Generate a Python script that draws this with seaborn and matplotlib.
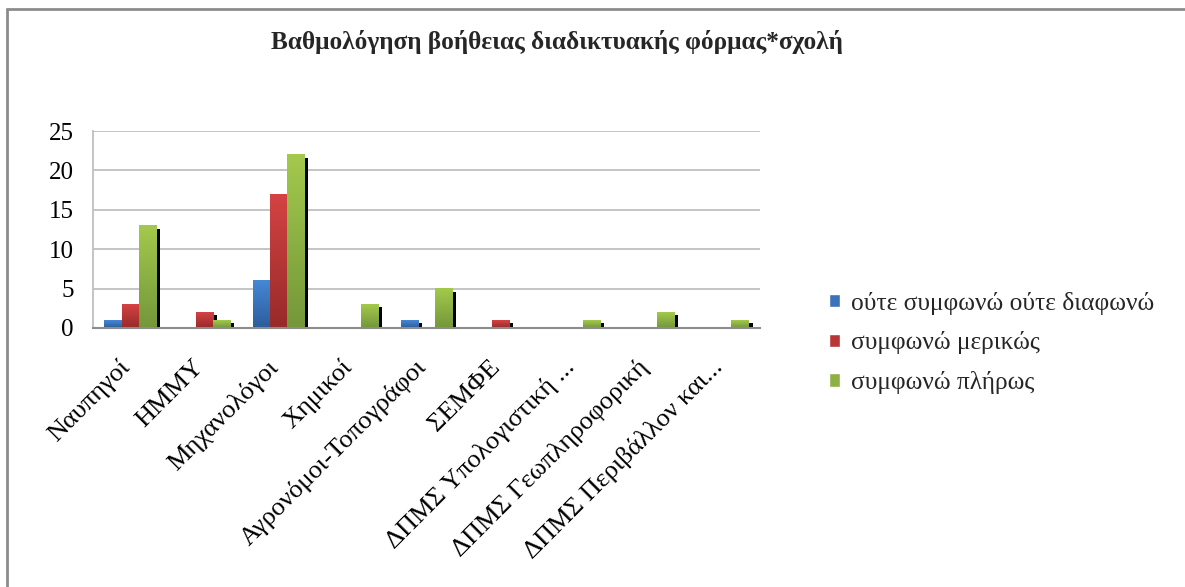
import numpy as np
import pandas as pd
import seaborn as sns
import matplotlib.pyplot as plt
from matplotlib.colors import LinearSegmentedColormap
from matplotlib.patches import Rectangle, Patch
from matplotlib.lines import Line2D
from matplotlib.transforms import ScaledTranslation

# data
schools = ['Ναυπηγοί', 'ΗΜΜΥ', 'Μηχανολόγοι', 'Χημικοί', 'Αγρονόμοι-Τοπογράφοι',
           'ΣΕΜΦΕ', 'ΔΠΜΣ Υπολογιστική ...', 'ΔΠΜΣ Γεωπληροφορική', 'ΔΠΜΣ Περιβάλλον και...']
answers = ['ούτε συμφωνώ ούτε διαφωνώ', 'συμφωνώ μερικώς', 'συμφωνώ πλήρως']
neutral = [1, 0, 6, 0, 1, 0, 0, 0, 0]
partly = [3, 2, 17, 0, 0, 1, 0, 0, 0]
fully = [13, 1, 22, 3, 5, 0, 1, 2, 1]
yticks = [0, 5, 10, 15, 20, 25]

df = pd.DataFrame({'school': schools, answers[0]: neutral, answers[1]: partly, answers[2]: fully})
long_df = df.melt(id_vars='school', var_name='answer', value_name='count')

# colours: (top, bottom) of the gradient, plus a mid colour for the palette
grad = {answers[0]: ('#4687d6', '#2c5d9c'),
        answers[1]: ('#d44343', '#982a2a'),
        answers[2]: ('#a3c94c', '#74973a')}
mid = {answers[0]: '#3a72bb', answers[1]: '#b93636', answers[2]: '#8cb042'}

sns.set_style('white')
plt.rcParams['font.family'] = ['Liberation Serif', 'DejaVu Serif']

fig = plt.figure(figsize=(11.85, 5.87), dpi=100)
ax = fig.add_axes([93 / 1185, 1 - 328 / 587, (760 - 93) / 1185, (328 - 131) / 587])

sns.barplot(data=long_df, x='school', y='count', hue='answer', order=schools, hue_order=answers,
            palette=mid, width=0.69, saturation=1, legend=False, ax=ax)

shadow_off = ScaledTranslation(4 / 100, -3 / 100, fig.dpi_scale_trans)
for i, (cont, name) in enumerate(zip(ax.containers, answers)):
    cmap = LinearSegmentedColormap.from_list(name, [grad[name][1], grad[name][0]])
    for bar in cont.patches:
        bar.set_zorder(3 + 2 * i)
        bar.set_linewidth(0)
        h = bar.get_height()
        if h <= 0:
            continue
        x0 = bar.get_x()
        w = bar.get_width()
        # drop shadow, offset down-right
        ax.add_patch(Rectangle((x0, 0), w, h, facecolor='black', linewidth=0,
                               transform=ax.transData + shadow_off, zorder=2.5 + 2 * i))
        # vertical gradient fill
        ax.imshow(np.linspace(0, 1, 64).reshape(-1, 1), cmap=cmap, origin='lower',
                  extent=[x0, x0 + w, 0, h], aspect='auto', zorder=3.1 + 2 * i)

ax.set_xlim(-0.5, len(schools) - 0.5)
ax.set_ylim(0, 25)
ax.set_yticks(yticks)
ax.set_xlabel('')
ax.set_ylabel('')
ax.set_axisbelow(True)
ax.yaxis.grid(True, color='#bfbfbf', linewidth=1.3)
ax.xaxis.grid(False)
for side in ['top', 'right']:
    ax.spines[side].set_visible(False)
ax.spines['left'].set_color('#bfbfbf')
ax.spines['left'].set_linewidth(1.3)
ax.spines['bottom'].set_color('#8c8c8c')
ax.spines['bottom'].set_linewidth(1.5)
ax.spines['bottom'].set_zorder(20)

ax.tick_params(axis='y', length=0, pad=14, labelsize=18, labelcolor='black')
ax.tick_params(axis='x', length=0, pad=20, labelsize=19, labelcolor='black')
label_off = ScaledTranslation(-12 / 100, 0, fig.dpi_scale_trans)
for lab in ax.get_xticklabels():
    lab.set_rotation(45)
    lab.set_ha('right')
    lab.set_va('top')
    lab.set_rotation_mode('anchor')
    lab.set_transform(lab.get_transform() + label_off)

fig.text(557 / 1185, 1 - 42 / 587, 'Βαθμολόγηση βοήθειας διαδικτυακής φόρμας*σχολή',
         ha='center', va='center', fontsize=18.2, fontweight='bold')

handles = [Patch(facecolor=mid[a], label=a) for a in answers]
fig.legend(handles=handles, loc='center left', bbox_to_anchor=(829 / 1185, 1 - 343 / 587),
           frameon=False, fontsize=18.3, handlelength=0.44, handleheight=0.44,
           handletextpad=0.42, labelspacing=0.66, borderpad=0, borderaxespad=0)

# outer chart border (top and left edges visible)
border = dict(color='#8c8c8c', linewidth=2, transform=fig.transFigure)
fig.add_artist(Line2D([7 / 1185, 1], [1 - 9 / 587, 1 - 9 / 587], **border))
fig.add_artist(Line2D([7 / 1185, 7 / 1185], [0, 1 - 9 / 587], **border))

fig.savefig('out.png', dpi=100)
